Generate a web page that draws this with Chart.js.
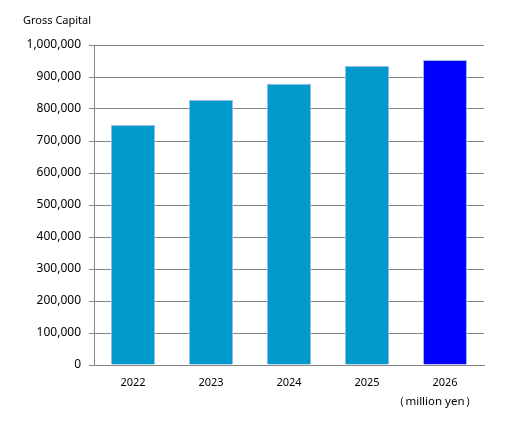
<!DOCTYPE html>
<html lang="en">
<head>
  <meta charset="UTF-8" />
  <title>Gross Capital</title>
  <script src="https://cdn.jsdelivr.net/npm/chart.js"></script>
  <style>
    html, body { margin: 0; padding: 0; background: #fff; }
    #wrap { width: 513px; height: 426px; }
  </style>
</head>
<body>
  <div id="wrap"><canvas id="capitalChart" width="513" height="426"></canvas></div>

  <script>
    const years = ['2022', '2023', '2024', '2025', '2026'];
    const grossCapital = [750000, 828000, 879000, 934000, 953000];
    const barColors = ['#0099cc', '#0099cc', '#0099cc', '#0099cc', '#0000ff'];

    const FONT = '"Noto Sans", sans-serif';

    // extra labels: title at top-left and unit under the last category
    const labelsPlugin = {
      id: 'extraLabels',
      afterDraw(chart) {
        const ctx = chart.ctx;
        ctx.save();
        ctx.fillStyle = '#000';
        ctx.font = '11px ' + FONT;
        ctx.textBaseline = 'middle';
        ctx.textAlign = 'left';
        ctx.fillText('Gross Capital', 23, 21);
        const x = chart.scales.x.getPixelForValue(4);
        ctx.textAlign = 'center';
        ctx.font = '11.5px ' + FONT;
        ctx.fillText('（million yen）', x - 10, 402);
        ctx.restore();
      }
    };

    new Chart(document.getElementById('capitalChart').getContext('2d'), {
      type: 'bar',
      data: {
        labels: years,
        datasets: [{
          data: grossCapital,
          backgroundColor: barColors,
          borderColor: '#9bbbe6',
          borderWidth: { top: 1, left: 1, right: 1, bottom: 0 },
          borderSkipped: false,
          categoryPercentage: 1,
          barPercentage: 0.565
        }]
      },
      options: {
        responsive: false,
        animation: false,
        layout: { padding: { left: 0, top: 45, right: 29, bottom: 0 } },
        plugins: { legend: { display: false }, tooltip: { enabled: false } },
        scales: {
          x: {
            afterFit(s) { s.height = 61; },
            grid: { display: false, drawTicks: false },
            border: { color: '#868686', width: 1 },
            ticks: { color: '#000', padding: 11, font: { family: FONT, size: 11 } }
          },
          y: {
            min: 0,
            max: 1000000,
            afterFit(s) { s.width = 94; },
            grid: { color: '#868686', lineWidth: 1, tickLength: 5, tickColor: '#868686' },
            border: { color: '#868686', width: 1 },
            ticks: {
              stepSize: 100000,
              color: '#000',
              padding: 8,
              font: { family: FONT, size: 12 },
              callback: v => v.toLocaleString('en-US')
            }
          }
        }
      },
      plugins: [labelsPlugin]
    });
  </script>
</body>
</html>
